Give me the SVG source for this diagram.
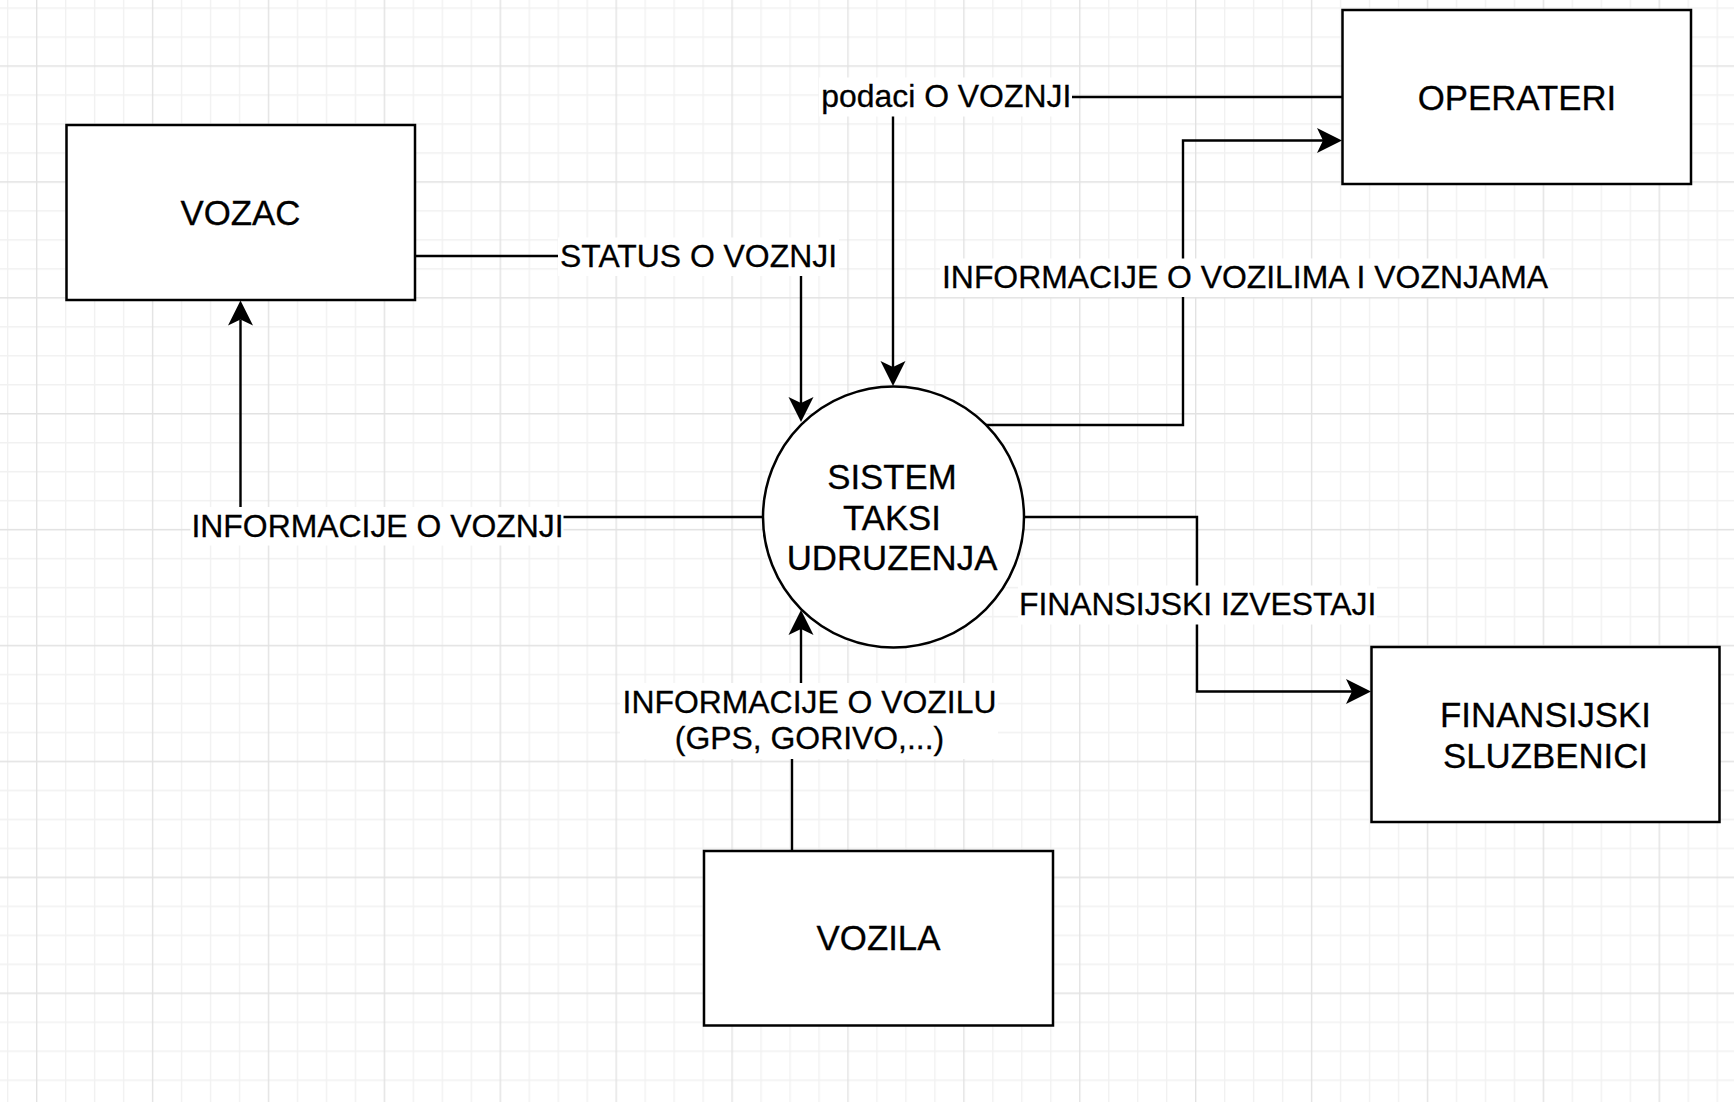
<svg xmlns="http://www.w3.org/2000/svg" width="1734" height="1102" viewBox="0 0 1734 1102">
<style>
.box{fill:#ffffff;stroke:#000000;stroke-width:2.5}
.edge{fill:none;stroke:#000000;stroke-width:2.4}
.ntext{font-family:"Liberation Sans",Arial,Helvetica,sans-serif;font-size:34.8px;fill:#000000;stroke:#000000;stroke-width:0.3;text-anchor:middle}
.ltext{font-family:"Liberation Sans",Arial,Helvetica,sans-serif;font-size:31.9px;fill:#000000;stroke:#000000;stroke-width:0.3;text-anchor:middle}
.lbg{fill:#ffffff;stroke:none}
.gmin{stroke:#f1f1f1;stroke-width:1.4}
.gmaj{stroke:#e2e2e2;stroke-width:1.4}
</style>
<defs>
<pattern id="grid" x="36" y="65.3" width="115.9" height="115.9" patternUnits="userSpaceOnUse">
<line class="gmin" x1="29.675" y1="0" x2="29.675" y2="115.9"/>
<line class="gmin" x1="58.65" y1="0" x2="58.65" y2="115.9"/>
<line class="gmin" x1="87.625" y1="0" x2="87.625" y2="115.9"/>
<line class="gmin" x1="0" y1="29.675" x2="115.9" y2="29.675"/>
<line class="gmin" x1="0" y1="58.65" x2="115.9" y2="58.65"/>
<line class="gmin" x1="0" y1="87.625" x2="115.9" y2="87.625"/>
<line class="gmaj" x1="0.7" y1="0" x2="0.7" y2="115.9"/>
<line class="gmaj" x1="0" y1="0.7" x2="115.9" y2="0.7"/>
</pattern>
<marker id="arrow" markerUnits="userSpaceOnUse" markerWidth="40" markerHeight="40" refX="0" refY="0" orient="auto" overflow="visible">
<path d="M19,0 L-6,-12.5 L0,0 L-6,12.5 Z" fill="#000000" stroke="none"/>
</marker>
</defs>
<rect x="0" y="0" width="1734" height="1102" fill="#ffffff"/>
<rect x="0" y="0" width="1734" height="1102" fill="url(#grid)"/>

<g id="connectors">
<path class="edge" d="M415,256 H801 V403" marker-end="url(#arrow)"/>
<path class="edge" d="M1343,97 H893 V367" marker-end="url(#arrow)"/>
<path class="edge" d="M986,425 H1183 V140.5 H1323" marker-end="url(#arrow)"/>
<path class="edge" d="M763,517 H240.5 V319.5" marker-end="url(#arrow)"/>
<path class="edge" d="M1024,517 H1197 V691.5 H1352" marker-end="url(#arrow)"/>
<path class="edge" d="M792,851 V720 H801 V629" marker-end="url(#arrow)"/>
</g>

<g id="edge-labels">
<g id="label-status">
<rect class="lbg" x="558" y="237.5" width="281" height="38.5"/>
<text class="ltext" x="698.5" y="267">STATUS O VOZNJI</text>
</g>
<g id="label-podaci">
<rect class="lbg" x="819" y="77.5" width="253" height="39"/>
<text class="ltext" x="946.3" y="107">podaci O VOZNJI</text>
</g>
<g id="label-vozilima">
<rect class="lbg" x="940" y="258.5" width="610" height="38.5"/>
<text class="ltext" x="1245" y="288">INFORMACIJE O VOZILIMA I VOZNJAMA</text>
</g>
<g id="label-info-voznji">
<rect class="lbg" x="190.5" y="507" width="373" height="38.5"/>
<text class="ltext" x="377.5" y="536.7">INFORMACIJE O VOZNJI</text>
</g>
<g id="label-finansijski">
<rect class="lbg" x="1018" y="585.5" width="359" height="39"/>
<text class="ltext" x="1197.6" y="615.3">FINANSIJSKI IZVESTAJI</text>
</g>
<g id="label-vozilu">
<rect class="lbg" x="620" y="683" width="378" height="76"/>
<text class="ltext" x="809.5" y="712.7">INFORMACIJE O VOZILU</text>
<text class="ltext" x="809.5" y="749.3">(GPS, GORIVO,...)</text>
</g>
</g>

<g id="node-vozac">
<rect class="box" x="66.5" y="125" width="348.5" height="175"/>
<text class="ntext" x="240.5" y="224.8">VOZAC</text>
</g>
<g id="node-operateri">
<rect class="box" x="1342.5" y="10" width="348.5" height="174"/>
<text class="ntext" x="1517" y="109.6">OPERATERI</text>
</g>
<g id="node-sistem">
<circle class="box" cx="893.5" cy="517" r="130.5"/>
<text class="ntext" x="892" y="489.3">SISTEM</text>
<text class="ntext" x="892" y="529.5">TAKSI</text>
<text class="ntext" x="892" y="570">UDRUZENJA</text>
</g>
<g id="node-finansijski">
<rect class="box" x="1371.5" y="647" width="348" height="175"/>
<text class="ntext" x="1545.5" y="726.7">FINANSIJSKI</text>
<text class="ntext" x="1545.5" y="767.6">SLUZBENICI</text>
</g>
<g id="node-vozila">
<rect class="box" x="704" y="851" width="349" height="174.5"/>
<text class="ntext" x="878.5" y="950">VOZILA</text>
</g>
</svg>
